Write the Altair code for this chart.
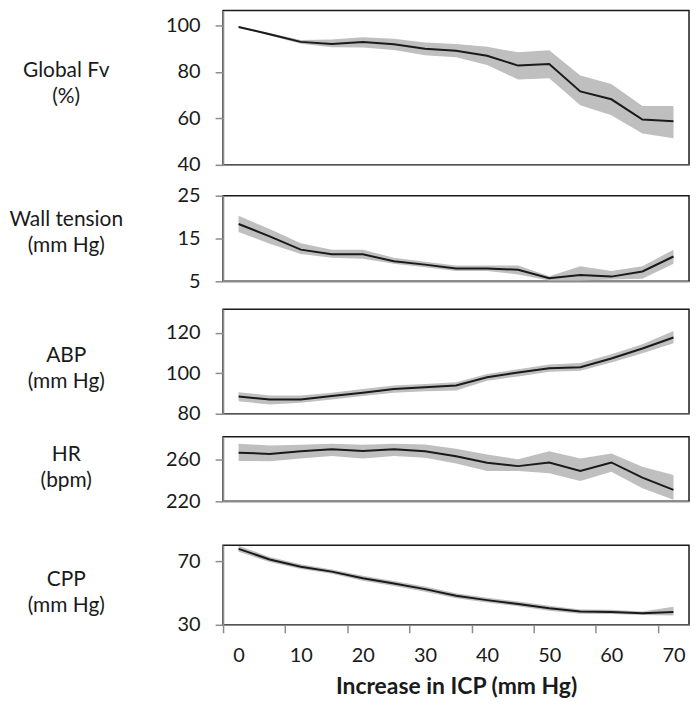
import altair as alt
import pandas as pd

# ---------------- data ----------------
icp = [0, 5, 10, 15, 20, 25, 30, 35, 40, 45, 50, 55, 60, 65, 70]

fv_mean = [99.3, 96.2, 92.9, 92.0, 92.8, 91.9, 89.9, 89.1, 86.9, 82.7, 83.4, 71.6, 68.2, 59.5, 58.8]
fv_hi = [99.6, 96.7, 93.7, 93.9, 94.9, 94.2, 92.6, 92.0, 90.8, 88.4, 89.3, 78.4, 74.8, 65.3, 65.3]
fv_lo = [99.0, 95.7, 92.1, 90.6, 90.5, 89.4, 87.2, 86.3, 83.0, 76.7, 77.3, 65.6, 61.3, 53.5, 51.4]

wt_mean = [18.4, 15.5, 12.4, 11.3, 11.3, 9.7, 8.9, 8.0, 8.0, 7.7, 5.7, 6.5, 6.1, 7.3, 10.8]
wt_hi = [20.3, 17.2, 13.9, 12.4, 12.4, 10.5, 9.6, 8.7, 8.7, 8.7, 6.2, 8.5, 7.4, 8.5, 12.4]
wt_lo = [16.5, 13.8, 11.4, 10.5, 10.3, 9.1, 8.3, 7.4, 7.4, 6.6, 5.2, 5.2, 5.4, 5.6, 9.1]

abp_mean = [88.5, 87.0, 87.0, 88.7, 90.4, 92.2, 93.1, 93.9, 98.0, 100.4, 102.4, 103.0, 107.3, 112.2, 117.6]
abp_hi = [90.6, 89.0, 89.0, 90.3, 92.2, 93.9, 94.7, 95.5, 99.6, 102.0, 104.3, 105.0, 109.4, 114.3, 120.8]
abp_lo = [86.2, 84.5, 85.4, 87.0, 88.7, 90.3, 91.1, 91.5, 96.3, 98.4, 100.7, 101.2, 105.3, 109.9, 114.8]

hr_mean = [266.6, 265.4, 267.9, 269.8, 268.2, 269.8, 267.9, 263.1, 256.9, 253.7, 257.2, 249.0, 257.2, 242.7, 231.0]
hr_hi = [275.1, 273.5, 274.2, 275.1, 274.2, 275.1, 274.5, 270.4, 264.7, 260.3, 267.9, 261.0, 265.7, 253.0, 245.2]
hr_lo = [258.7, 258.4, 261.0, 263.5, 261.0, 263.5, 261.6, 256.2, 249.0, 249.0, 246.8, 239.5, 248.3, 232.6, 221.6]

cpp_mean = [77.7, 71.0, 66.5, 63.4, 59.2, 55.9, 52.4, 48.2, 45.5, 43.1, 40.4, 38.3, 38.1, 37.3, 38.1]
cpp_hi = [79.6, 72.6, 68.0, 64.8, 60.8, 57.5, 54.0, 49.8, 47.0, 44.6, 41.9, 39.6, 39.4, 38.3, 41.4]
cpp_lo = [75.8, 69.4, 65.0, 62.0, 57.6, 54.3, 50.8, 46.6, 44.0, 41.6, 38.9, 37.0, 36.8, 36.2, 35.8]

fv_ticks = [40, 60, 80, 100]
wt_ticks = [5, 15, 25]
abp_ticks = [80, 100, 120]
hr_ticks = [220, 260]
cpp_ticks = [30, 50, 70]

x_title = "Increase in ICP (mm Hg)"

# ---------------- styling ----------------
FONT = "Lato"
AXIS_GRAY = "#8c8c8c"
BAND = "#bfbfbf"
LINE = "#1a1a1a"
TEXT = "#1a1a1a"
W = 468
TITLE_X = -158

x_bounds = [v - 2.5 for v in icp] + [icp[-1] + 2.5]
x_scale = alt.Scale(domain=[x_bounds[0], x_bounds[-1]], nice=False, zero=False)


def panel(mean, lo, hi, domain, ticks, title_lines, title_y, height, bottom=False):
    df = pd.DataFrame({"icp": icp, "mean": mean, "lo": lo, "hi": hi})
    if bottom:
        xaxis = alt.Axis(
            values=x_bounds,
            labelExpr="(datum.value + 2.5) % 10 == 0 ? format(datum.value + 2.5, 'd') : ''",
            labelOffset=W / len(icp) / 2,
            labelFontSize=20,
            labelColor=TEXT,
            labelPadding=13,
            tickSize=8,
            tickColor=AXIS_GRAY,
            tickWidth=1.5,
            domainColor=AXIS_GRAY,
            domainWidth=1.5,
            title=x_title,
            titleFontSize=23,
            titleFontWeight="bold",
            titleColor=TEXT,
            titlePadding=10,
        )
    else:
        xaxis = alt.Axis(
            labels=False, ticks=False, title=None,
            domainColor=AXIS_GRAY, domainWidth=1.5,
        )
    yaxis = alt.Axis(
        values=ticks,
        labelOverlap=False,
        labelFontSize=20,
        labelColor=TEXT,
        labelPadding=15,
        tickSize=8,
        tickColor=AXIS_GRAY,
        tickWidth=1.5,
        domainColor=AXIS_GRAY,
        domainWidth=1.5,
        title=title_lines,
        titleAngle=0,
        titleAlign="center",
        titleBaseline="middle",
        titleX=TITLE_X,
        titleY=title_y,
        titleFontSize=21,
        titleFontWeight="normal",
        titleColor=TEXT,
        titleLineHeight=26,
    )
    y_scale = alt.Scale(domain=domain, nice=False, zero=False)
    base = alt.Chart(df)
    band = base.mark_area(color=BAND, opacity=1, clip=True).encode(
        x=alt.X("icp:Q", scale=x_scale, axis=xaxis),
        y=alt.Y("lo:Q", scale=y_scale, axis=yaxis),
        y2="hi:Q",
    )
    line = base.mark_line(color=LINE, strokeWidth=2, clip=True).encode(
        x="icp:Q",
        y=alt.Y("mean:Q", axis=alt.Axis(labelOverlap=False)),
    )
    return alt.layer(band, line).properties(width=W, height=height)


def spacer(h):
    return (
        alt.Chart(pd.DataFrame({"s": [0]}))
        .mark_point(opacity=0)
        .encode(x=alt.value(0), y=alt.value(0))
        .properties(width=W, height=h, view=alt.ViewBackground(stroke="transparent"))
    )


p1 = panel(fv_mean, fv_lo, fv_hi, [40, 106.4], fv_ticks, ["Global Fv", "(%)"], 60, 155)
p2 = panel(wt_mean, wt_lo, wt_hi, [5, 25], wt_ticks, ["Wall tension", "(mm Hg)"], 24, 86)
p3 = panel(abp_mean, abp_lo, abp_hi, [80, 131.6], abp_ticks, ["ABP", "(mm Hg)"], 47, 105)
p4 = panel(hr_mean, hr_lo, hr_hi, [220, 281.9], hr_ticks, ["HR", "(bpm)"], 18, 65)
p5 = panel(cpp_mean, cpp_lo, cpp_hi, [30, 80], cpp_ticks, ["CPP", "(mm Hg)"], 35, 80, bottom=True)

chart = (
    alt.vconcat(
        p1, spacer(31), p2, spacer(28), p3, spacer(23), p4, spacer(44), p5,
        spacing=0, bounds="flush",
    )
    .properties(padding={"left": 0, "top": 0, "right": 2, "bottom": 0})
    .configure(font=FONT)
    .configure_axis(labelOverlap=False, labelFlush=False, grid=False)
    .configure_view(stroke="#1a1a1a", strokeWidth=1.5)
)

chart.save("out.html", embed_options={"renderer": "svg", "actions": False})
